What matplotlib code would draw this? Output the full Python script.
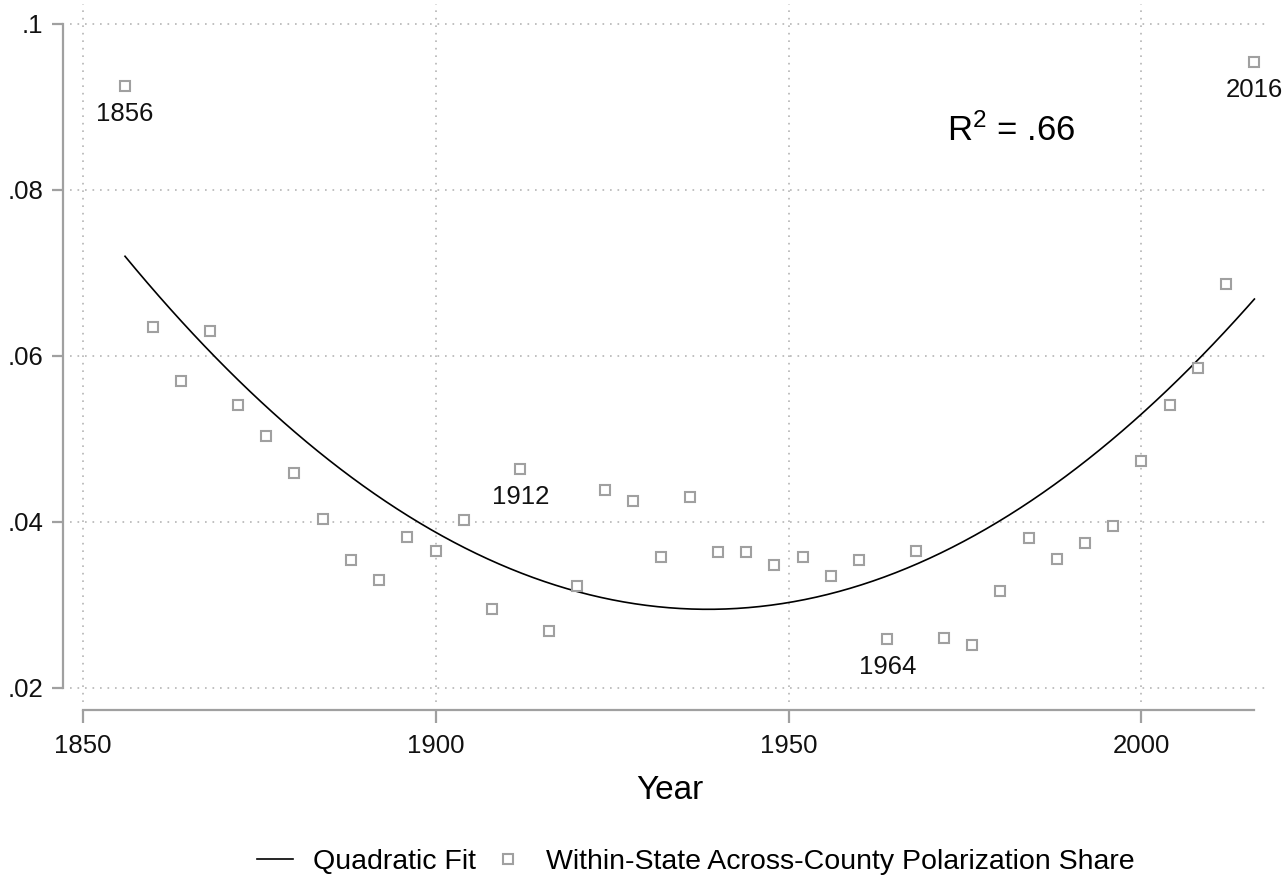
import numpy as np
import matplotlib.pyplot as plt

plt.rcParams['font.family'] = ['Liberation Sans', 'DejaVu Sans']
plt.rcParams['mathtext.default'] = 'regular'

# election years and within-state across-county share
years = [1856, 1860, 1864, 1868, 1872, 1876, 1880, 1884, 1888, 1892,
         1896, 1900, 1904, 1908, 1912, 1916, 1920, 1924, 1928, 1932,
         1936, 1940, 1944, 1948, 1952, 1956, 1960, 1964, 1968, 1972,
         1976, 1980, 1984, 1988, 1992, 1996, 2000, 2004, 2008, 2012, 2016]
share = [0.0925, 0.0635, 0.0570, 0.0630, 0.0541, 0.0504, 0.0459, 0.0404, 0.0354, 0.0330,
         0.0382, 0.0365, 0.0402, 0.0295, 0.0464, 0.0269, 0.0323, 0.0439, 0.0425, 0.0358,
         0.0430, 0.0364, 0.0364, 0.0348, 0.0358, 0.0335, 0.0354, 0.0259, 0.0365, 0.0260,
         0.0252, 0.0317, 0.0380, 0.0355, 0.0375, 0.0395, 0.0473, 0.0541, 0.0586, 0.0687, 0.0954]
labelled = [1856, 1912, 1964, 2016]

xticks = [1850, 1900, 1950, 2000]
yticks = [0.02, 0.04, 0.06, 0.08, 0.1]
ytick_labels = ['.02', '.04', '.06', '.08', '.1']

grey = '#a0a0a0'

fig = plt.figure(figsize=(12.86, 8.82), dpi=100)
ax = fig.add_axes([0.0544, 0.2041, 0.9331, 0.7914])

# quadratic fit
x = np.array(years, dtype=float)
y = np.array(share)
coef = np.polyfit(x, y, 2)
xf = np.linspace(x.min(), x.max(), 300)
ax.plot(xf, np.polyval(coef, xf), color='black', lw=1.2, label='Quadratic Fit')

ax.plot(years, share, ls='none', marker='s', ms=7, mfc='white', mec=grey, mew=1.5,
        label='Within-State Across-County Polarization Share')

for yr, v in zip(years, share):
    if yr in labelled:
        ax.annotate(str(yr), (yr, v), xytext=(0, -20), textcoords='offset points',
                    ha='center', va='center', fontsize=18.5, color='#111111')

ax.text(1981.5, 0.0871, 'R$^2$ = .66', ha='center', va='center', fontsize=25)

ax.set_xlim(1848.2, 2018.2)
ax.set_ylim(0.0183, 0.1024)
ax.set_xticks(xticks)
ax.set_yticks(yticks)
ax.set_yticklabels(ytick_labels)
ax.grid(True, color='#b5b5b5', ls=(0, (1, 3.5)), lw=1.2)

for s in ['top', 'right']:
    ax.spines[s].set_visible(False)
ax.spines['left'].set_position(('outward', 5))
ax.spines['left'].set_bounds(0.02, 0.1)
ax.spines['bottom'].set_position(('outward', 6))
ax.spines['bottom'].set_bounds(1850, 2016)
for s in ['left', 'bottom']:
    ax.spines[s].set_color(grey)
    ax.spines[s].set_linewidth(1.6)
ax.tick_params(axis='both', colors=grey, width=1.6, labelcolor='#111111', labelsize=18.5)
ax.tick_params(axis='y', length=8, pad=6)
ax.tick_params(axis='x', length=9, pad=8)

ax.set_xlabel('Year', fontsize=24, labelpad=12)

fig.legend(loc='center', bbox_to_anchor=(0.541, 0.0227), ncol=2, frameon=False,
           fontsize=20.5, handlelength=1.25, columnspacing=0.5, handletextpad=0.7)

fig.savefig('out.png', dpi=100)
